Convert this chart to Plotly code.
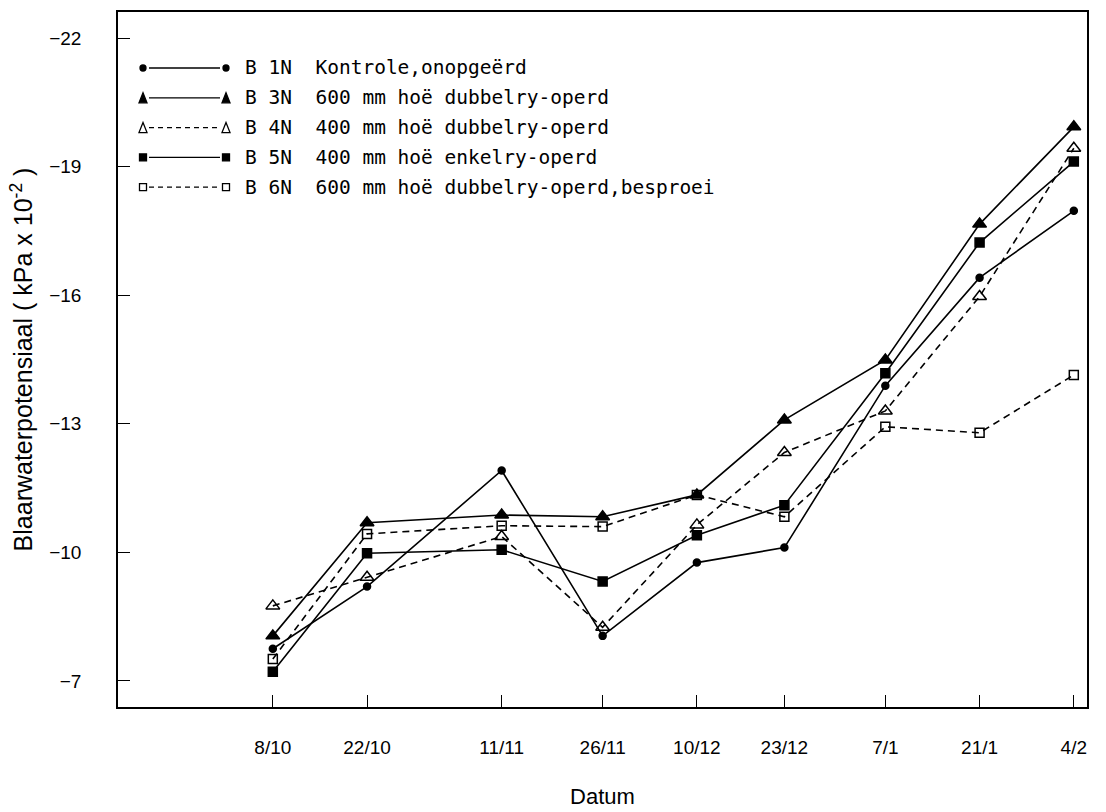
import plotly.graph_objects as go

# Measurement dates (season 1980/81) and the labels printed under them
dates = ["1980-10-08", "1980-10-22", "1980-11-11", "1980-11-26", "1980-12-10",
         "1980-12-23", "1981-01-07", "1981-01-21", "1981-02-04"]
date_labels = ["8/10", "22/10", "11/11", "26/11", "10/12", "23/12", "7/1", "21/1", "4/2"]

# Leaf water potential per treatment (kPa x 10^-2)
b1n = [-7.75, -9.20, -11.91, -8.05, -9.76, -10.11, -13.89, -16.41, -17.97]
b3n = [-8.05, -10.69, -10.87, -10.83, -11.34, -13.09, -14.49, -17.66, -19.93]
b4n = [-8.75, -9.42, -10.37, -8.25, -10.64, -12.33, -13.30, -15.97, -19.43]
b5n = [-7.21, -9.98, -10.06, -9.32, -10.40, -11.10, -14.18, -17.23, -19.12]
b6n = [-7.51, -10.43, -10.62, -10.60, -11.34, -10.83, -12.93, -12.79, -14.14]

codes = ["B 1N", "B 3N", "B 4N", "B 5N", "B 6N"]
descriptions = ["Kontrole,onopgeërd",
                "600 mm hoë dubbelry-operd",
                "400 mm hoë dubbelry-operd",
                "400 mm hoë enkelry-operd",
                "600 mm hoë dubbelry-operd,besproei"]
values = [b1n, b3n, b4n, b5n, b6n]

y_ticks = [-22, -19, -16, -13, -10, -7]

# Drawing styles per treatment
symbols = ["circle", "triangle-up", "triangle-up-open", "square", "square-open"]
dashes = ["solid", "solid", "7px,5px", "solid", "7px,5px"]
sizes = [7, 12, 12, 9, 9]

W, H = 1106, 812
L, R, T, B = 118, 1087, 12, 707

fig = go.Figure()
for code, vals, dash in zip(codes, values, dashes):
    fig.add_trace(go.Scatter(
        x=dates, y=vals, name=code, mode="lines",
        line=dict(color="black", width=1.6, dash=dash),
        hoverinfo="skip",
    ))
for code, vals, sym, size in zip(codes, values, symbols, sizes):
    fig.add_trace(go.Scatter(
        x=dates, y=vals, name=code, mode="markers",
        marker=dict(symbol=sym, size=size, color="black",
                    line=dict(color="black", width=1.5)),
    ))

# Hand-made key in the upper left corner: marker - line - marker, code, description
def px_x(px):
    return (px - L) / (R - L)

def px_y(py):
    return (B - py) / (B - T)

def glyph(kind, xp, yp):
    base = dict(xref="paper", yref="paper", xsizemode="pixel", ysizemode="pixel",
                xanchor=xp, yanchor=yp, line=dict(color="black", width=1.3))
    if kind == "circle":
        return dict(type="circle", x0=-3, x1=3, y0=-3, y1=3, fillcolor="black", **base)
    if kind == "square":
        return dict(type="rect", x0=-3.5, x1=3.5, y0=-3.5, y1=3.5, fillcolor="black", **base)
    if kind == "square-open":
        return dict(type="rect", x0=-3.5, x1=3.5, y0=-3.5, y1=3.5, fillcolor="white", **base)
    fill = "black" if kind == "triangle-up" else "white"
    return dict(type="path", path="M -4,-5 L 4,-5 L 0,5 Z", fillcolor=fill, **base)

shapes = []
annotations = []
row0, step = 68, 29.8
for i, (code, desc, sym, dash) in enumerate(zip(codes, descriptions, symbols, dashes)):
    yp = px_y(row0 + i * step)
    shapes.append(dict(type="line", xref="paper", yref="paper",
                       x0=px_x(149), x1=px_x(220), y0=yp, y1=yp,
                       line=dict(color="black", width=1.3,
                                 dash="solid" if dash == "solid" else "5px,4px")))
    shapes.append(glyph(sym, px_x(143), yp))
    shapes.append(glyph(sym, px_x(226), yp))
    annotations.append(dict(
        xref="paper", yref="paper", x=px_x(243), y=yp, xanchor="left", yanchor="middle",
        text=(code + "  " + desc).replace(" ", "\u00a0"), showarrow=False,
        font=dict(family="DejaVu Sans Mono", size=19.5, color="black"),
    ))

fig.update_layout(
    width=W, height=H,
    margin=dict(l=L, r=W - R, t=T, b=H - B, autoexpand=False),
    paper_bgcolor="white", plot_bgcolor="white",
    showlegend=False,
    font=dict(family="Liberation Sans, Arial, sans-serif", color="black"),
    shapes=shapes, annotations=annotations,
)

fig.update_xaxes(
    type="date", range=["1980-09-15", "1981-02-05 23:00"],
    tickvals=dates, ticktext=date_labels,
    ticks="inside", ticklen=12, tickwidth=1.3, tickcolor="black",
    ticklabelstandoff=22,
    showline=True, linewidth=1.6, linecolor="black", mirror=True,
    showgrid=False, zeroline=False,
    tickfont=dict(size=19),
    title=dict(text="Datum", font=dict(size=22), standoff=32),
)
fig.update_yaxes(
    range=[-6.39, -22.61],
    tickvals=y_ticks,
    ticks="inside", ticklen=12, tickwidth=1.3, tickcolor="black",
    ticklabelstandoff=31,
    showline=True, linewidth=1.6, linecolor="black", mirror=True,
    showgrid=False, zeroline=False,
    tickfont=dict(size=19),
    title=dict(text="Blaarwaterpotensiaal ( kPa x 10<sup>-2</sup> )",
               font=dict(size=25), standoff=9),
)

fig.write_html("out.html")
